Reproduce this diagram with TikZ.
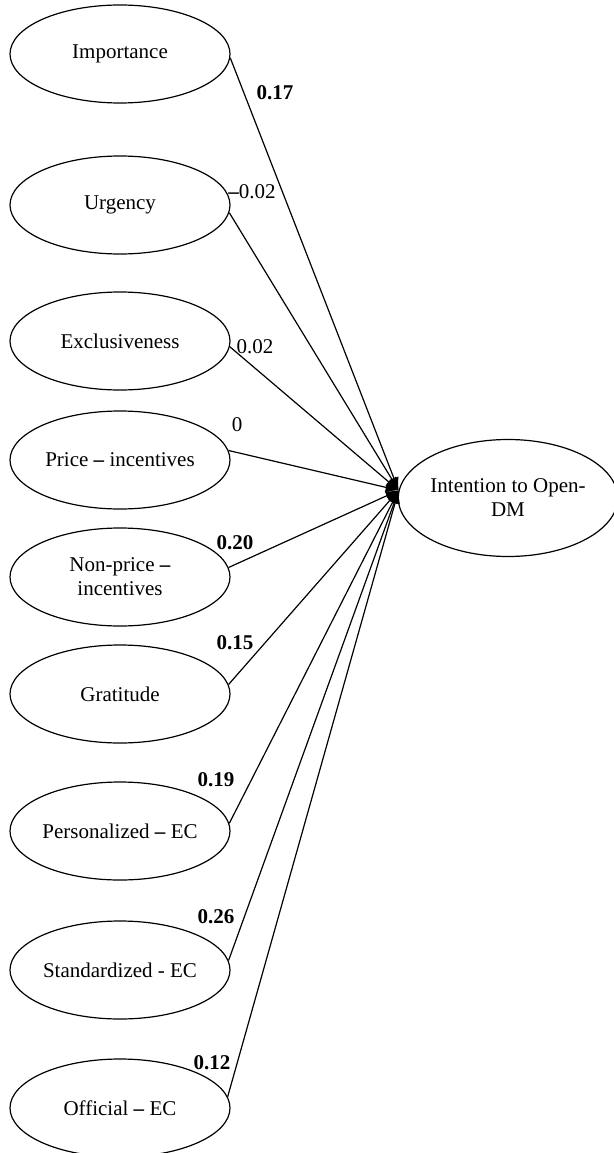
\documentclass[tikz,border=0pt]{standalone}
\usepackage{fontspec}
\setmainfont{Liberation Serif}
\usetikzlibrary{shapes.geometric,arrows.meta}
\newcommand{\lvar}[3]{% y, name, label   (construct on the left, 220 x 98)
  \node[draw,ellipse,minimum width=220pt,minimum height=98pt,inner sep=0,align=center] (#2) at (120,#1) {#3};}
\newcommand{\coef}[4]{% x, y, name, value
  \node[inner sep=0] (#3) at (#1,#2) {#4};}
\newcommand{\bdash}{\textbf{--}}

\begin{document}
\begin{tikzpicture}[x=1pt,y=-1pt,>={Latex[length=13pt,width=10pt]},line width=1.2pt,font=\fontsize{21}{24}\selectfont]
  \useasboundingbox (0,0) rectangle (613,1153);
  % predictors
  \lvar{54}{imp}{Importance}
  \lvar{205}{urg}{Urgency}
  \lvar{341}{exc}{Exclusiveness}
  \lvar{460}{pri}{Price \bdash{} incentives}
  \lvar{577}{npi}{Non-price \bdash\\incentives}
  \lvar{694}{gra}{Gratitude}
  \lvar{831}{per}{Personalized \bdash{} EC}
  \lvar{970}{sta}{Standardized - EC}
  \lvar{1108}{off}{Official \bdash{} EC}
  % outcome
  \node[draw,ellipse,minimum width=212pt,minimum height=117pt,inner sep=0,align=center] (dv) at (508,498) {Intention to Open-\\DM};
  % paths
  \draw[->] (imp.-2) -- (dv.176);
  \draw[->] (urg.-4) -- (dv.176);
  \draw[->] (exc.-3) -- (dv.176);
  \draw[->] (pri.5) -- (dv.176);
  \draw[->] (npi.5) -- (dv.176);
  \draw[->] (gra.5) -- (dv.176);
  \draw[->] (per.4) -- (dv.176);
  \draw[->] (sta.5) -- (dv.176);
  \draw[->] (off.6) -- (dv.176);
  % estimates
  \coef{275}{93}{cimp}{\textbf{0.17}}
  \coef{252}{192}{curg}{\bdash0.02}
  \coef{255}{347}{cexc}{0.02}
  \coef{237}{425}{cpri}{0}
  \coef{235}{543}{cnpi}{\textbf{0.20}}
  \coef{235}{643}{cgra}{\textbf{0.15}}
  \coef{216}{780}{cper}{\textbf{0.19}}
  \coef{216}{917}{csta}{\textbf{0.26}}
  \coef{212}{1063}{coff}{\textbf{0.12}}
\end{tikzpicture}
\end{document}
